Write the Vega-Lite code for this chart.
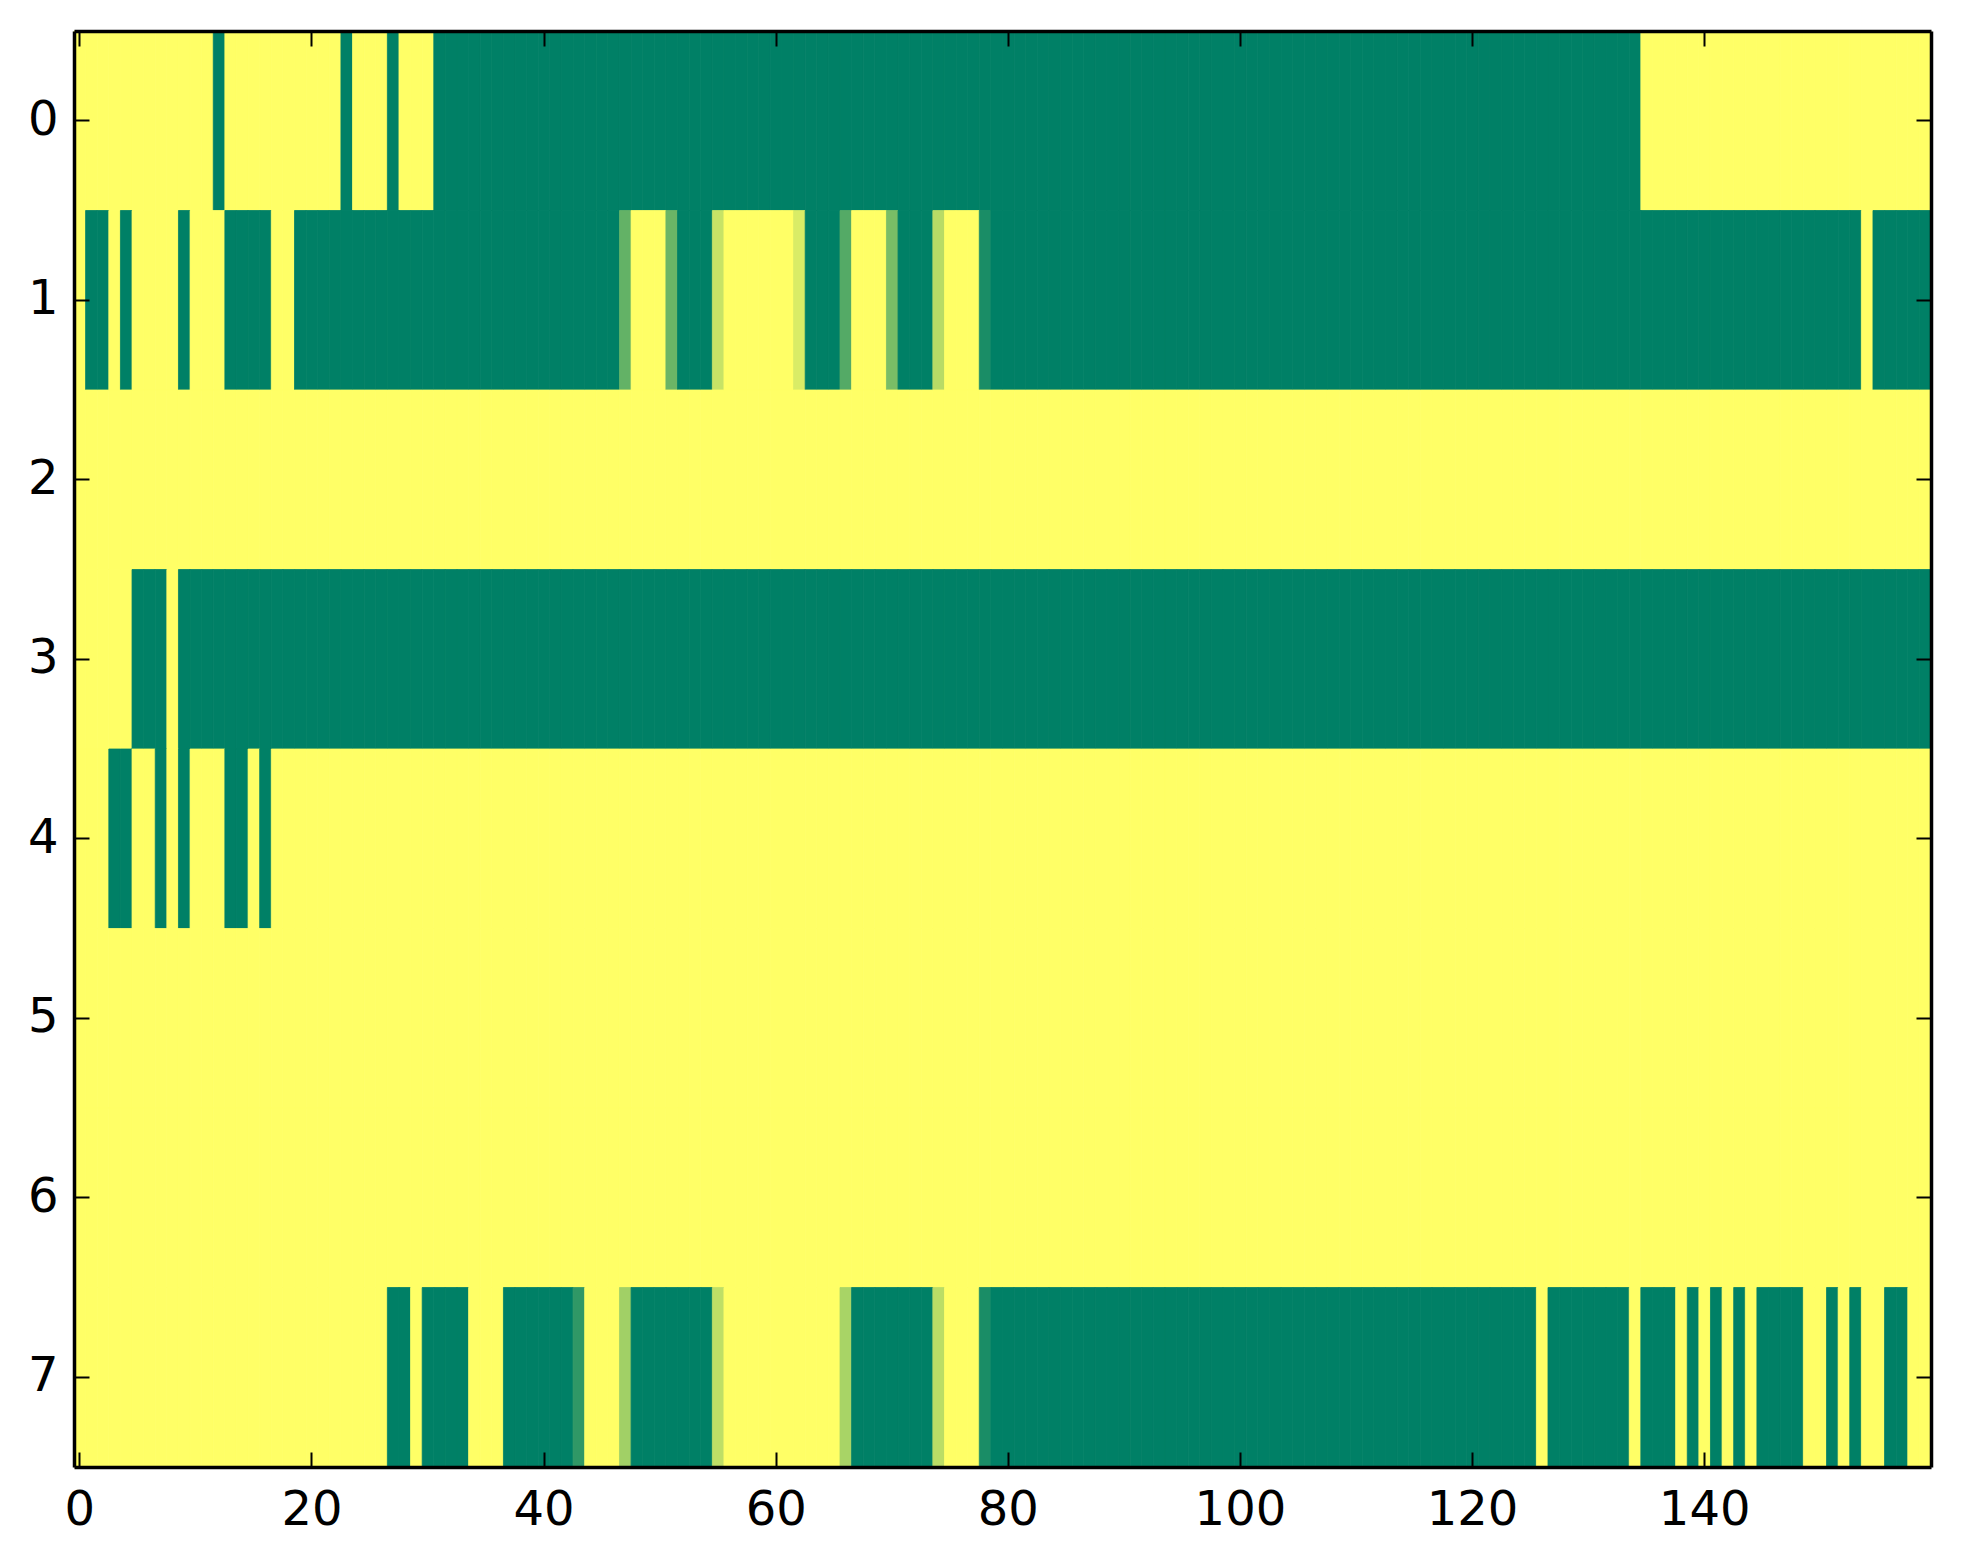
{
"$schema": "https://vega.github.io/schema/vega-lite/v6.json",
"width": 1857,
"height": 1436,
"autosize": {"type": "none"},
"padding": {"left": 74, "top": 31, "right": 32, "bottom": 97},
"background": "white",
"config": {
  "view": {"stroke": null},
  "axis": {"domainColor": "black", "domainWidth": 3.5, "tickColor": "black", "tickWidth": 2, "tickSize": -15, "labelFont": "DejaVu Sans", "labelFontSize": 48, "labelColor": "black", "grid": false, "title": null, "labelAngle": 0, "zindex": 1}
},
"data": {"values": [
{"r":0,"c":0,"v":1},{"r":0,"c":1,"v":1},{"r":0,"c":2,"v":1},{"r":0,"c":3,"v":1},{"r":0,"c":4,"v":1},{"r":0,"c":5,"v":1},{"r":0,"c":6,"v":1},{"r":0,"c":7,"v":1},{"r":0,"c":8,"v":1},{"r":0,"c":9,"v":1},
{"r":0,"c":10,"v":1},{"r":0,"c":11,"v":1},{"r":0,"c":12,"v":0},{"r":0,"c":13,"v":1},{"r":0,"c":14,"v":1},{"r":0,"c":15,"v":1},{"r":0,"c":16,"v":1},{"r":0,"c":17,"v":1},{"r":0,"c":18,"v":1},{"r":0,"c":19,"v":1},
{"r":0,"c":20,"v":1},{"r":0,"c":21,"v":1},{"r":0,"c":22,"v":1},{"r":0,"c":23,"v":0},{"r":0,"c":24,"v":1},{"r":0,"c":25,"v":1},{"r":0,"c":26,"v":1},{"r":0,"c":27,"v":0},{"r":0,"c":28,"v":1},{"r":0,"c":29,"v":1},
{"r":0,"c":30,"v":1},{"r":0,"c":31,"v":0},{"r":0,"c":32,"v":0},{"r":0,"c":33,"v":0},{"r":0,"c":34,"v":0},{"r":0,"c":35,"v":0},{"r":0,"c":36,"v":0},{"r":0,"c":37,"v":0},{"r":0,"c":38,"v":0},{"r":0,"c":39,"v":0},
{"r":0,"c":40,"v":0},{"r":0,"c":41,"v":0},{"r":0,"c":42,"v":0},{"r":0,"c":43,"v":0},{"r":0,"c":44,"v":0},{"r":0,"c":45,"v":0},{"r":0,"c":46,"v":0},{"r":0,"c":47,"v":0},{"r":0,"c":48,"v":0},{"r":0,"c":49,"v":0},
{"r":0,"c":50,"v":0},{"r":0,"c":51,"v":0},{"r":0,"c":52,"v":0},{"r":0,"c":53,"v":0},{"r":0,"c":54,"v":0},{"r":0,"c":55,"v":0},{"r":0,"c":56,"v":0},{"r":0,"c":57,"v":0},{"r":0,"c":58,"v":0},{"r":0,"c":59,"v":0},
{"r":0,"c":60,"v":0},{"r":0,"c":61,"v":0},{"r":0,"c":62,"v":0},{"r":0,"c":63,"v":0},{"r":0,"c":64,"v":0},{"r":0,"c":65,"v":0},{"r":0,"c":66,"v":0},{"r":0,"c":67,"v":0},{"r":0,"c":68,"v":0},{"r":0,"c":69,"v":0},
{"r":0,"c":70,"v":0},{"r":0,"c":71,"v":0},{"r":0,"c":72,"v":0},{"r":0,"c":73,"v":0},{"r":0,"c":74,"v":0},{"r":0,"c":75,"v":0},{"r":0,"c":76,"v":0},{"r":0,"c":77,"v":0},{"r":0,"c":78,"v":0},{"r":0,"c":79,"v":0},
{"r":0,"c":80,"v":0},{"r":0,"c":81,"v":0},{"r":0,"c":82,"v":0},{"r":0,"c":83,"v":0},{"r":0,"c":84,"v":0},{"r":0,"c":85,"v":0},{"r":0,"c":86,"v":0},{"r":0,"c":87,"v":0},{"r":0,"c":88,"v":0},{"r":0,"c":89,"v":0},
{"r":0,"c":90,"v":0},{"r":0,"c":91,"v":0},{"r":0,"c":92,"v":0},{"r":0,"c":93,"v":0},{"r":0,"c":94,"v":0},{"r":0,"c":95,"v":0},{"r":0,"c":96,"v":0},{"r":0,"c":97,"v":0},{"r":0,"c":98,"v":0},{"r":0,"c":99,"v":0},
{"r":0,"c":100,"v":0},{"r":0,"c":101,"v":0},{"r":0,"c":102,"v":0},{"r":0,"c":103,"v":0},{"r":0,"c":104,"v":0},{"r":0,"c":105,"v":0},{"r":0,"c":106,"v":0},{"r":0,"c":107,"v":0},{"r":0,"c":108,"v":0},{"r":0,"c":109,"v":0},
{"r":0,"c":110,"v":0},{"r":0,"c":111,"v":0},{"r":0,"c":112,"v":0},{"r":0,"c":113,"v":0},{"r":0,"c":114,"v":0},{"r":0,"c":115,"v":0},{"r":0,"c":116,"v":0},{"r":0,"c":117,"v":0},{"r":0,"c":118,"v":0},{"r":0,"c":119,"v":0},
{"r":0,"c":120,"v":0},{"r":0,"c":121,"v":0},{"r":0,"c":122,"v":0},{"r":0,"c":123,"v":0},{"r":0,"c":124,"v":0},{"r":0,"c":125,"v":0},{"r":0,"c":126,"v":0},{"r":0,"c":127,"v":0},{"r":0,"c":128,"v":0},{"r":0,"c":129,"v":0},
{"r":0,"c":130,"v":0},{"r":0,"c":131,"v":0},{"r":0,"c":132,"v":0},{"r":0,"c":133,"v":0},{"r":0,"c":134,"v":0},{"r":0,"c":135,"v":1},{"r":0,"c":136,"v":1},{"r":0,"c":137,"v":1},{"r":0,"c":138,"v":1},{"r":0,"c":139,"v":1},
{"r":0,"c":140,"v":1},{"r":0,"c":141,"v":1},{"r":0,"c":142,"v":1},{"r":0,"c":143,"v":1},{"r":0,"c":144,"v":1},{"r":0,"c":145,"v":1},{"r":0,"c":146,"v":1},{"r":0,"c":147,"v":1},{"r":0,"c":148,"v":1},{"r":0,"c":149,"v":1},
{"r":0,"c":150,"v":1},{"r":0,"c":151,"v":1},{"r":0,"c":152,"v":1},{"r":0,"c":153,"v":1},{"r":0,"c":154,"v":1},{"r":0,"c":155,"v":1},{"r":0,"c":156,"v":1},{"r":0,"c":157,"v":1},{"r":0,"c":158,"v":1},{"r":0,"c":159,"v":1},

{"r":1,"c":0,"v":1},{"r":1,"c":1,"v":0},{"r":1,"c":2,"v":0},{"r":1,"c":3,"v":1},{"r":1,"c":4,"v":0},{"r":1,"c":5,"v":1},{"r":1,"c":6,"v":1},{"r":1,"c":7,"v":1},{"r":1,"c":8,"v":1},{"r":1,"c":9,"v":0},
{"r":1,"c":10,"v":1},{"r":1,"c":11,"v":1},{"r":1,"c":12,"v":1},{"r":1,"c":13,"v":0},{"r":1,"c":14,"v":0},{"r":1,"c":15,"v":0},{"r":1,"c":16,"v":0},{"r":1,"c":17,"v":1},{"r":1,"c":18,"v":1},{"r":1,"c":19,"v":0},
{"r":1,"c":20,"v":0},{"r":1,"c":21,"v":0},{"r":1,"c":22,"v":0},{"r":1,"c":23,"v":0},{"r":1,"c":24,"v":0},{"r":1,"c":25,"v":0},{"r":1,"c":26,"v":0},{"r":1,"c":27,"v":0},{"r":1,"c":28,"v":0},{"r":1,"c":29,"v":0},
{"r":1,"c":30,"v":0},{"r":1,"c":31,"v":0},{"r":1,"c":32,"v":0},{"r":1,"c":33,"v":0},{"r":1,"c":34,"v":0},{"r":1,"c":35,"v":0},{"r":1,"c":36,"v":0},{"r":1,"c":37,"v":0},{"r":1,"c":38,"v":0},{"r":1,"c":39,"v":0},
{"r":1,"c":40,"v":0},{"r":1,"c":41,"v":0},{"r":1,"c":42,"v":0},{"r":1,"c":43,"v":0},{"r":1,"c":44,"v":0},{"r":1,"c":45,"v":0},{"r":1,"c":46,"v":0},{"r":1,"c":47,"v":0.39},{"r":1,"c":48,"v":1},{"r":1,"c":49,"v":1},
{"r":1,"c":50,"v":1},{"r":1,"c":51,"v":0.42},{"r":1,"c":52,"v":0},{"r":1,"c":53,"v":0},{"r":1,"c":54,"v":0},{"r":1,"c":55,"v":0.78},{"r":1,"c":56,"v":1},{"r":1,"c":57,"v":1},{"r":1,"c":58,"v":1},{"r":1,"c":59,"v":1},
{"r":1,"c":60,"v":1},{"r":1,"c":61,"v":1},{"r":1,"c":62,"v":0.85},{"r":1,"c":63,"v":0},{"r":1,"c":64,"v":0},{"r":1,"c":65,"v":0},{"r":1,"c":66,"v":0.33},{"r":1,"c":67,"v":1},{"r":1,"c":68,"v":1},{"r":1,"c":69,"v":1},
{"r":1,"c":70,"v":0.48},{"r":1,"c":71,"v":0},{"r":1,"c":72,"v":0},{"r":1,"c":73,"v":0},{"r":1,"c":74,"v":0.72},{"r":1,"c":75,"v":1},{"r":1,"c":76,"v":1},{"r":1,"c":77,"v":1},{"r":1,"c":78,"v":0.1},{"r":1,"c":79,"v":0},
{"r":1,"c":80,"v":0},{"r":1,"c":81,"v":0},{"r":1,"c":82,"v":0},{"r":1,"c":83,"v":0},{"r":1,"c":84,"v":0},{"r":1,"c":85,"v":0},{"r":1,"c":86,"v":0},{"r":1,"c":87,"v":0},{"r":1,"c":88,"v":0},{"r":1,"c":89,"v":0},
{"r":1,"c":90,"v":0},{"r":1,"c":91,"v":0},{"r":1,"c":92,"v":0},{"r":1,"c":93,"v":0},{"r":1,"c":94,"v":0},{"r":1,"c":95,"v":0},{"r":1,"c":96,"v":0},{"r":1,"c":97,"v":0},{"r":1,"c":98,"v":0},{"r":1,"c":99,"v":0},
{"r":1,"c":100,"v":0},{"r":1,"c":101,"v":0},{"r":1,"c":102,"v":0},{"r":1,"c":103,"v":0},{"r":1,"c":104,"v":0},{"r":1,"c":105,"v":0},{"r":1,"c":106,"v":0},{"r":1,"c":107,"v":0},{"r":1,"c":108,"v":0},{"r":1,"c":109,"v":0},
{"r":1,"c":110,"v":0},{"r":1,"c":111,"v":0},{"r":1,"c":112,"v":0},{"r":1,"c":113,"v":0},{"r":1,"c":114,"v":0},{"r":1,"c":115,"v":0},{"r":1,"c":116,"v":0},{"r":1,"c":117,"v":0},{"r":1,"c":118,"v":0},{"r":1,"c":119,"v":0},
{"r":1,"c":120,"v":0},{"r":1,"c":121,"v":0},{"r":1,"c":122,"v":0},{"r":1,"c":123,"v":0},{"r":1,"c":124,"v":0},{"r":1,"c":125,"v":0},{"r":1,"c":126,"v":0},{"r":1,"c":127,"v":0},{"r":1,"c":128,"v":0},{"r":1,"c":129,"v":0},
{"r":1,"c":130,"v":0},{"r":1,"c":131,"v":0},{"r":1,"c":132,"v":0},{"r":1,"c":133,"v":0},{"r":1,"c":134,"v":0},{"r":1,"c":135,"v":0},{"r":1,"c":136,"v":0},{"r":1,"c":137,"v":0},{"r":1,"c":138,"v":0},{"r":1,"c":139,"v":0},
{"r":1,"c":140,"v":0},{"r":1,"c":141,"v":0},{"r":1,"c":142,"v":0},{"r":1,"c":143,"v":0},{"r":1,"c":144,"v":0},{"r":1,"c":145,"v":0},{"r":1,"c":146,"v":0},{"r":1,"c":147,"v":0},{"r":1,"c":148,"v":0},{"r":1,"c":149,"v":0},
{"r":1,"c":150,"v":0},{"r":1,"c":151,"v":0},{"r":1,"c":152,"v":0},{"r":1,"c":153,"v":0},{"r":1,"c":154,"v":1},{"r":1,"c":155,"v":0},{"r":1,"c":156,"v":0},{"r":1,"c":157,"v":0},{"r":1,"c":158,"v":0},{"r":1,"c":159,"v":0},

{"r":2,"c":0,"v":1},{"r":2,"c":1,"v":1},{"r":2,"c":2,"v":1},{"r":2,"c":3,"v":1},{"r":2,"c":4,"v":1},{"r":2,"c":5,"v":1},{"r":2,"c":6,"v":1},{"r":2,"c":7,"v":1},{"r":2,"c":8,"v":1},{"r":2,"c":9,"v":1},
{"r":2,"c":10,"v":1},{"r":2,"c":11,"v":1},{"r":2,"c":12,"v":1},{"r":2,"c":13,"v":1},{"r":2,"c":14,"v":1},{"r":2,"c":15,"v":1},{"r":2,"c":16,"v":1},{"r":2,"c":17,"v":1},{"r":2,"c":18,"v":1},{"r":2,"c":19,"v":1},
{"r":2,"c":20,"v":1},{"r":2,"c":21,"v":1},{"r":2,"c":22,"v":1},{"r":2,"c":23,"v":1},{"r":2,"c":24,"v":1},{"r":2,"c":25,"v":1},{"r":2,"c":26,"v":1},{"r":2,"c":27,"v":1},{"r":2,"c":28,"v":1},{"r":2,"c":29,"v":1},
{"r":2,"c":30,"v":1},{"r":2,"c":31,"v":1},{"r":2,"c":32,"v":1},{"r":2,"c":33,"v":1},{"r":2,"c":34,"v":1},{"r":2,"c":35,"v":1},{"r":2,"c":36,"v":1},{"r":2,"c":37,"v":1},{"r":2,"c":38,"v":1},{"r":2,"c":39,"v":1},
{"r":2,"c":40,"v":1},{"r":2,"c":41,"v":1},{"r":2,"c":42,"v":1},{"r":2,"c":43,"v":1},{"r":2,"c":44,"v":1},{"r":2,"c":45,"v":1},{"r":2,"c":46,"v":1},{"r":2,"c":47,"v":1},{"r":2,"c":48,"v":1},{"r":2,"c":49,"v":1},
{"r":2,"c":50,"v":1},{"r":2,"c":51,"v":1},{"r":2,"c":52,"v":1},{"r":2,"c":53,"v":1},{"r":2,"c":54,"v":1},{"r":2,"c":55,"v":1},{"r":2,"c":56,"v":1},{"r":2,"c":57,"v":1},{"r":2,"c":58,"v":1},{"r":2,"c":59,"v":1},
{"r":2,"c":60,"v":1},{"r":2,"c":61,"v":1},{"r":2,"c":62,"v":1},{"r":2,"c":63,"v":1},{"r":2,"c":64,"v":1},{"r":2,"c":65,"v":1},{"r":2,"c":66,"v":1},{"r":2,"c":67,"v":1},{"r":2,"c":68,"v":1},{"r":2,"c":69,"v":1},
{"r":2,"c":70,"v":1},{"r":2,"c":71,"v":1},{"r":2,"c":72,"v":1},{"r":2,"c":73,"v":1},{"r":2,"c":74,"v":1},{"r":2,"c":75,"v":1},{"r":2,"c":76,"v":1},{"r":2,"c":77,"v":1},{"r":2,"c":78,"v":1},{"r":2,"c":79,"v":1},
{"r":2,"c":80,"v":1},{"r":2,"c":81,"v":1},{"r":2,"c":82,"v":1},{"r":2,"c":83,"v":1},{"r":2,"c":84,"v":1},{"r":2,"c":85,"v":1},{"r":2,"c":86,"v":1},{"r":2,"c":87,"v":1},{"r":2,"c":88,"v":1},{"r":2,"c":89,"v":1},
{"r":2,"c":90,"v":1},{"r":2,"c":91,"v":1},{"r":2,"c":92,"v":1},{"r":2,"c":93,"v":1},{"r":2,"c":94,"v":1},{"r":2,"c":95,"v":1},{"r":2,"c":96,"v":1},{"r":2,"c":97,"v":1},{"r":2,"c":98,"v":1},{"r":2,"c":99,"v":1},
{"r":2,"c":100,"v":1},{"r":2,"c":101,"v":1},{"r":2,"c":102,"v":1},{"r":2,"c":103,"v":1},{"r":2,"c":104,"v":1},{"r":2,"c":105,"v":1},{"r":2,"c":106,"v":1},{"r":2,"c":107,"v":1},{"r":2,"c":108,"v":1},{"r":2,"c":109,"v":1},
{"r":2,"c":110,"v":1},{"r":2,"c":111,"v":1},{"r":2,"c":112,"v":1},{"r":2,"c":113,"v":1},{"r":2,"c":114,"v":1},{"r":2,"c":115,"v":1},{"r":2,"c":116,"v":1},{"r":2,"c":117,"v":1},{"r":2,"c":118,"v":1},{"r":2,"c":119,"v":1},
{"r":2,"c":120,"v":1},{"r":2,"c":121,"v":1},{"r":2,"c":122,"v":1},{"r":2,"c":123,"v":1},{"r":2,"c":124,"v":1},{"r":2,"c":125,"v":1},{"r":2,"c":126,"v":1},{"r":2,"c":127,"v":1},{"r":2,"c":128,"v":1},{"r":2,"c":129,"v":1},
{"r":2,"c":130,"v":1},{"r":2,"c":131,"v":1},{"r":2,"c":132,"v":1},{"r":2,"c":133,"v":1},{"r":2,"c":134,"v":1},{"r":2,"c":135,"v":1},{"r":2,"c":136,"v":1},{"r":2,"c":137,"v":1},{"r":2,"c":138,"v":1},{"r":2,"c":139,"v":1},
{"r":2,"c":140,"v":1},{"r":2,"c":141,"v":1},{"r":2,"c":142,"v":1},{"r":2,"c":143,"v":1},{"r":2,"c":144,"v":1},{"r":2,"c":145,"v":1},{"r":2,"c":146,"v":1},{"r":2,"c":147,"v":1},{"r":2,"c":148,"v":1},{"r":2,"c":149,"v":1},
{"r":2,"c":150,"v":1},{"r":2,"c":151,"v":1},{"r":2,"c":152,"v":1},{"r":2,"c":153,"v":1},{"r":2,"c":154,"v":1},{"r":2,"c":155,"v":1},{"r":2,"c":156,"v":1},{"r":2,"c":157,"v":1},{"r":2,"c":158,"v":1},{"r":2,"c":159,"v":1},

{"r":3,"c":0,"v":1},{"r":3,"c":1,"v":1},{"r":3,"c":2,"v":1},{"r":3,"c":3,"v":1},{"r":3,"c":4,"v":1},{"r":3,"c":5,"v":0},{"r":3,"c":6,"v":0},{"r":3,"c":7,"v":0},{"r":3,"c":8,"v":1},{"r":3,"c":9,"v":0},
{"r":3,"c":10,"v":0},{"r":3,"c":11,"v":0},{"r":3,"c":12,"v":0},{"r":3,"c":13,"v":0},{"r":3,"c":14,"v":0},{"r":3,"c":15,"v":0},{"r":3,"c":16,"v":0},{"r":3,"c":17,"v":0},{"r":3,"c":18,"v":0},{"r":3,"c":19,"v":0},
{"r":3,"c":20,"v":0},{"r":3,"c":21,"v":0},{"r":3,"c":22,"v":0},{"r":3,"c":23,"v":0},{"r":3,"c":24,"v":0},{"r":3,"c":25,"v":0},{"r":3,"c":26,"v":0},{"r":3,"c":27,"v":0},{"r":3,"c":28,"v":0},{"r":3,"c":29,"v":0},
{"r":3,"c":30,"v":0},{"r":3,"c":31,"v":0},{"r":3,"c":32,"v":0},{"r":3,"c":33,"v":0},{"r":3,"c":34,"v":0},{"r":3,"c":35,"v":0},{"r":3,"c":36,"v":0},{"r":3,"c":37,"v":0},{"r":3,"c":38,"v":0},{"r":3,"c":39,"v":0},
{"r":3,"c":40,"v":0},{"r":3,"c":41,"v":0},{"r":3,"c":42,"v":0},{"r":3,"c":43,"v":0},{"r":3,"c":44,"v":0},{"r":3,"c":45,"v":0},{"r":3,"c":46,"v":0},{"r":3,"c":47,"v":0},{"r":3,"c":48,"v":0},{"r":3,"c":49,"v":0},
{"r":3,"c":50,"v":0},{"r":3,"c":51,"v":0},{"r":3,"c":52,"v":0},{"r":3,"c":53,"v":0},{"r":3,"c":54,"v":0},{"r":3,"c":55,"v":0},{"r":3,"c":56,"v":0},{"r":3,"c":57,"v":0},{"r":3,"c":58,"v":0},{"r":3,"c":59,"v":0},
{"r":3,"c":60,"v":0},{"r":3,"c":61,"v":0},{"r":3,"c":62,"v":0},{"r":3,"c":63,"v":0},{"r":3,"c":64,"v":0},{"r":3,"c":65,"v":0},{"r":3,"c":66,"v":0},{"r":3,"c":67,"v":0},{"r":3,"c":68,"v":0},{"r":3,"c":69,"v":0},
{"r":3,"c":70,"v":0},{"r":3,"c":71,"v":0},{"r":3,"c":72,"v":0},{"r":3,"c":73,"v":0},{"r":3,"c":74,"v":0},{"r":3,"c":75,"v":0},{"r":3,"c":76,"v":0},{"r":3,"c":77,"v":0},{"r":3,"c":78,"v":0},{"r":3,"c":79,"v":0},
{"r":3,"c":80,"v":0},{"r":3,"c":81,"v":0},{"r":3,"c":82,"v":0},{"r":3,"c":83,"v":0},{"r":3,"c":84,"v":0},{"r":3,"c":85,"v":0},{"r":3,"c":86,"v":0},{"r":3,"c":87,"v":0},{"r":3,"c":88,"v":0},{"r":3,"c":89,"v":0},
{"r":3,"c":90,"v":0},{"r":3,"c":91,"v":0},{"r":3,"c":92,"v":0},{"r":3,"c":93,"v":0},{"r":3,"c":94,"v":0},{"r":3,"c":95,"v":0},{"r":3,"c":96,"v":0},{"r":3,"c":97,"v":0},{"r":3,"c":98,"v":0},{"r":3,"c":99,"v":0},
{"r":3,"c":100,"v":0},{"r":3,"c":101,"v":0},{"r":3,"c":102,"v":0},{"r":3,"c":103,"v":0},{"r":3,"c":104,"v":0},{"r":3,"c":105,"v":0},{"r":3,"c":106,"v":0},{"r":3,"c":107,"v":0},{"r":3,"c":108,"v":0},{"r":3,"c":109,"v":0},
{"r":3,"c":110,"v":0},{"r":3,"c":111,"v":0},{"r":3,"c":112,"v":0},{"r":3,"c":113,"v":0},{"r":3,"c":114,"v":0},{"r":3,"c":115,"v":0},{"r":3,"c":116,"v":0},{"r":3,"c":117,"v":0},{"r":3,"c":118,"v":0},{"r":3,"c":119,"v":0},
{"r":3,"c":120,"v":0},{"r":3,"c":121,"v":0},{"r":3,"c":122,"v":0},{"r":3,"c":123,"v":0},{"r":3,"c":124,"v":0},{"r":3,"c":125,"v":0},{"r":3,"c":126,"v":0},{"r":3,"c":127,"v":0},{"r":3,"c":128,"v":0},{"r":3,"c":129,"v":0},
{"r":3,"c":130,"v":0},{"r":3,"c":131,"v":0},{"r":3,"c":132,"v":0},{"r":3,"c":133,"v":0},{"r":3,"c":134,"v":0},{"r":3,"c":135,"v":0},{"r":3,"c":136,"v":0},{"r":3,"c":137,"v":0},{"r":3,"c":138,"v":0},{"r":3,"c":139,"v":0},
{"r":3,"c":140,"v":0},{"r":3,"c":141,"v":0},{"r":3,"c":142,"v":0},{"r":3,"c":143,"v":0},{"r":3,"c":144,"v":0},{"r":3,"c":145,"v":0},{"r":3,"c":146,"v":0},{"r":3,"c":147,"v":0},{"r":3,"c":148,"v":0},{"r":3,"c":149,"v":0},
{"r":3,"c":150,"v":0},{"r":3,"c":151,"v":0},{"r":3,"c":152,"v":0},{"r":3,"c":153,"v":0},{"r":3,"c":154,"v":0},{"r":3,"c":155,"v":0},{"r":3,"c":156,"v":0},{"r":3,"c":157,"v":0},{"r":3,"c":158,"v":0},{"r":3,"c":159,"v":0},

{"r":4,"c":0,"v":1},{"r":4,"c":1,"v":1},{"r":4,"c":2,"v":1},{"r":4,"c":3,"v":0},{"r":4,"c":4,"v":0},{"r":4,"c":5,"v":1},{"r":4,"c":6,"v":1},{"r":4,"c":7,"v":0},{"r":4,"c":8,"v":1},{"r":4,"c":9,"v":0},
{"r":4,"c":10,"v":1},{"r":4,"c":11,"v":1},{"r":4,"c":12,"v":1},{"r":4,"c":13,"v":0},{"r":4,"c":14,"v":0},{"r":4,"c":15,"v":1},{"r":4,"c":16,"v":0},{"r":4,"c":17,"v":1},{"r":4,"c":18,"v":1},{"r":4,"c":19,"v":1},
{"r":4,"c":20,"v":1},{"r":4,"c":21,"v":1},{"r":4,"c":22,"v":1},{"r":4,"c":23,"v":1},{"r":4,"c":24,"v":1},{"r":4,"c":25,"v":1},{"r":4,"c":26,"v":1},{"r":4,"c":27,"v":1},{"r":4,"c":28,"v":1},{"r":4,"c":29,"v":1},
{"r":4,"c":30,"v":1},{"r":4,"c":31,"v":1},{"r":4,"c":32,"v":1},{"r":4,"c":33,"v":1},{"r":4,"c":34,"v":1},{"r":4,"c":35,"v":1},{"r":4,"c":36,"v":1},{"r":4,"c":37,"v":1},{"r":4,"c":38,"v":1},{"r":4,"c":39,"v":1},
{"r":4,"c":40,"v":1},{"r":4,"c":41,"v":1},{"r":4,"c":42,"v":1},{"r":4,"c":43,"v":1},{"r":4,"c":44,"v":1},{"r":4,"c":45,"v":1},{"r":4,"c":46,"v":1},{"r":4,"c":47,"v":1},{"r":4,"c":48,"v":1},{"r":4,"c":49,"v":1},
{"r":4,"c":50,"v":1},{"r":4,"c":51,"v":1},{"r":4,"c":52,"v":1},{"r":4,"c":53,"v":1},{"r":4,"c":54,"v":1},{"r":4,"c":55,"v":1},{"r":4,"c":56,"v":1},{"r":4,"c":57,"v":1},{"r":4,"c":58,"v":1},{"r":4,"c":59,"v":1},
{"r":4,"c":60,"v":1},{"r":4,"c":61,"v":1},{"r":4,"c":62,"v":1},{"r":4,"c":63,"v":1},{"r":4,"c":64,"v":1},{"r":4,"c":65,"v":1},{"r":4,"c":66,"v":1},{"r":4,"c":67,"v":1},{"r":4,"c":68,"v":1},{"r":4,"c":69,"v":1},
{"r":4,"c":70,"v":1},{"r":4,"c":71,"v":1},{"r":4,"c":72,"v":1},{"r":4,"c":73,"v":1},{"r":4,"c":74,"v":1},{"r":4,"c":75,"v":1},{"r":4,"c":76,"v":1},{"r":4,"c":77,"v":1},{"r":4,"c":78,"v":1},{"r":4,"c":79,"v":1},
{"r":4,"c":80,"v":1},{"r":4,"c":81,"v":1},{"r":4,"c":82,"v":1},{"r":4,"c":83,"v":1},{"r":4,"c":84,"v":1},{"r":4,"c":85,"v":1},{"r":4,"c":86,"v":1},{"r":4,"c":87,"v":1},{"r":4,"c":88,"v":1},{"r":4,"c":89,"v":1},
{"r":4,"c":90,"v":1},{"r":4,"c":91,"v":1},{"r":4,"c":92,"v":1},{"r":4,"c":93,"v":1},{"r":4,"c":94,"v":1},{"r":4,"c":95,"v":1},{"r":4,"c":96,"v":1},{"r":4,"c":97,"v":1},{"r":4,"c":98,"v":1},{"r":4,"c":99,"v":1},
{"r":4,"c":100,"v":1},{"r":4,"c":101,"v":1},{"r":4,"c":102,"v":1},{"r":4,"c":103,"v":1},{"r":4,"c":104,"v":1},{"r":4,"c":105,"v":1},{"r":4,"c":106,"v":1},{"r":4,"c":107,"v":1},{"r":4,"c":108,"v":1},{"r":4,"c":109,"v":1},
{"r":4,"c":110,"v":1},{"r":4,"c":111,"v":1},{"r":4,"c":112,"v":1},{"r":4,"c":113,"v":1},{"r":4,"c":114,"v":1},{"r":4,"c":115,"v":1},{"r":4,"c":116,"v":1},{"r":4,"c":117,"v":1},{"r":4,"c":118,"v":1},{"r":4,"c":119,"v":1},
{"r":4,"c":120,"v":1},{"r":4,"c":121,"v":1},{"r":4,"c":122,"v":1},{"r":4,"c":123,"v":1},{"r":4,"c":124,"v":1},{"r":4,"c":125,"v":1},{"r":4,"c":126,"v":1},{"r":4,"c":127,"v":1},{"r":4,"c":128,"v":1},{"r":4,"c":129,"v":1},
{"r":4,"c":130,"v":1},{"r":4,"c":131,"v":1},{"r":4,"c":132,"v":1},{"r":4,"c":133,"v":1},{"r":4,"c":134,"v":1},{"r":4,"c":135,"v":1},{"r":4,"c":136,"v":1},{"r":4,"c":137,"v":1},{"r":4,"c":138,"v":1},{"r":4,"c":139,"v":1},
{"r":4,"c":140,"v":1},{"r":4,"c":141,"v":1},{"r":4,"c":142,"v":1},{"r":4,"c":143,"v":1},{"r":4,"c":144,"v":1},{"r":4,"c":145,"v":1},{"r":4,"c":146,"v":1},{"r":4,"c":147,"v":1},{"r":4,"c":148,"v":1},{"r":4,"c":149,"v":1},
{"r":4,"c":150,"v":1},{"r":4,"c":151,"v":1},{"r":4,"c":152,"v":1},{"r":4,"c":153,"v":1},{"r":4,"c":154,"v":1},{"r":4,"c":155,"v":1},{"r":4,"c":156,"v":1},{"r":4,"c":157,"v":1},{"r":4,"c":158,"v":1},{"r":4,"c":159,"v":1},

{"r":5,"c":0,"v":1},{"r":5,"c":1,"v":1},{"r":5,"c":2,"v":1},{"r":5,"c":3,"v":1},{"r":5,"c":4,"v":1},{"r":5,"c":5,"v":1},{"r":5,"c":6,"v":1},{"r":5,"c":7,"v":1},{"r":5,"c":8,"v":1},{"r":5,"c":9,"v":1},
{"r":5,"c":10,"v":1},{"r":5,"c":11,"v":1},{"r":5,"c":12,"v":1},{"r":5,"c":13,"v":1},{"r":5,"c":14,"v":1},{"r":5,"c":15,"v":1},{"r":5,"c":16,"v":1},{"r":5,"c":17,"v":1},{"r":5,"c":18,"v":1},{"r":5,"c":19,"v":1},
{"r":5,"c":20,"v":1},{"r":5,"c":21,"v":1},{"r":5,"c":22,"v":1},{"r":5,"c":23,"v":1},{"r":5,"c":24,"v":1},{"r":5,"c":25,"v":1},{"r":5,"c":26,"v":1},{"r":5,"c":27,"v":1},{"r":5,"c":28,"v":1},{"r":5,"c":29,"v":1},
{"r":5,"c":30,"v":1},{"r":5,"c":31,"v":1},{"r":5,"c":32,"v":1},{"r":5,"c":33,"v":1},{"r":5,"c":34,"v":1},{"r":5,"c":35,"v":1},{"r":5,"c":36,"v":1},{"r":5,"c":37,"v":1},{"r":5,"c":38,"v":1},{"r":5,"c":39,"v":1},
{"r":5,"c":40,"v":1},{"r":5,"c":41,"v":1},{"r":5,"c":42,"v":1},{"r":5,"c":43,"v":1},{"r":5,"c":44,"v":1},{"r":5,"c":45,"v":1},{"r":5,"c":46,"v":1},{"r":5,"c":47,"v":1},{"r":5,"c":48,"v":1},{"r":5,"c":49,"v":1},
{"r":5,"c":50,"v":1},{"r":5,"c":51,"v":1},{"r":5,"c":52,"v":1},{"r":5,"c":53,"v":1},{"r":5,"c":54,"v":1},{"r":5,"c":55,"v":1},{"r":5,"c":56,"v":1},{"r":5,"c":57,"v":1},{"r":5,"c":58,"v":1},{"r":5,"c":59,"v":1},
{"r":5,"c":60,"v":1},{"r":5,"c":61,"v":1},{"r":5,"c":62,"v":1},{"r":5,"c":63,"v":1},{"r":5,"c":64,"v":1},{"r":5,"c":65,"v":1},{"r":5,"c":66,"v":1},{"r":5,"c":67,"v":1},{"r":5,"c":68,"v":1},{"r":5,"c":69,"v":1},
{"r":5,"c":70,"v":1},{"r":5,"c":71,"v":1},{"r":5,"c":72,"v":1},{"r":5,"c":73,"v":1},{"r":5,"c":74,"v":1},{"r":5,"c":75,"v":1},{"r":5,"c":76,"v":1},{"r":5,"c":77,"v":1},{"r":5,"c":78,"v":1},{"r":5,"c":79,"v":1},
{"r":5,"c":80,"v":1},{"r":5,"c":81,"v":1},{"r":5,"c":82,"v":1},{"r":5,"c":83,"v":1},{"r":5,"c":84,"v":1},{"r":5,"c":85,"v":1},{"r":5,"c":86,"v":1},{"r":5,"c":87,"v":1},{"r":5,"c":88,"v":1},{"r":5,"c":89,"v":1},
{"r":5,"c":90,"v":1},{"r":5,"c":91,"v":1},{"r":5,"c":92,"v":1},{"r":5,"c":93,"v":1},{"r":5,"c":94,"v":1},{"r":5,"c":95,"v":1},{"r":5,"c":96,"v":1},{"r":5,"c":97,"v":1},{"r":5,"c":98,"v":1},{"r":5,"c":99,"v":1},
{"r":5,"c":100,"v":1},{"r":5,"c":101,"v":1},{"r":5,"c":102,"v":1},{"r":5,"c":103,"v":1},{"r":5,"c":104,"v":1},{"r":5,"c":105,"v":1},{"r":5,"c":106,"v":1},{"r":5,"c":107,"v":1},{"r":5,"c":108,"v":1},{"r":5,"c":109,"v":1},
{"r":5,"c":110,"v":1},{"r":5,"c":111,"v":1},{"r":5,"c":112,"v":1},{"r":5,"c":113,"v":1},{"r":5,"c":114,"v":1},{"r":5,"c":115,"v":1},{"r":5,"c":116,"v":1},{"r":5,"c":117,"v":1},{"r":5,"c":118,"v":1},{"r":5,"c":119,"v":1},
{"r":5,"c":120,"v":1},{"r":5,"c":121,"v":1},{"r":5,"c":122,"v":1},{"r":5,"c":123,"v":1},{"r":5,"c":124,"v":1},{"r":5,"c":125,"v":1},{"r":5,"c":126,"v":1},{"r":5,"c":127,"v":1},{"r":5,"c":128,"v":1},{"r":5,"c":129,"v":1},
{"r":5,"c":130,"v":1},{"r":5,"c":131,"v":1},{"r":5,"c":132,"v":1},{"r":5,"c":133,"v":1},{"r":5,"c":134,"v":1},{"r":5,"c":135,"v":1},{"r":5,"c":136,"v":1},{"r":5,"c":137,"v":1},{"r":5,"c":138,"v":1},{"r":5,"c":139,"v":1},
{"r":5,"c":140,"v":1},{"r":5,"c":141,"v":1},{"r":5,"c":142,"v":1},{"r":5,"c":143,"v":1},{"r":5,"c":144,"v":1},{"r":5,"c":145,"v":1},{"r":5,"c":146,"v":1},{"r":5,"c":147,"v":1},{"r":5,"c":148,"v":1},{"r":5,"c":149,"v":1},
{"r":5,"c":150,"v":1},{"r":5,"c":151,"v":1},{"r":5,"c":152,"v":1},{"r":5,"c":153,"v":1},{"r":5,"c":154,"v":1},{"r":5,"c":155,"v":1},{"r":5,"c":156,"v":1},{"r":5,"c":157,"v":1},{"r":5,"c":158,"v":1},{"r":5,"c":159,"v":1},

{"r":6,"c":0,"v":1},{"r":6,"c":1,"v":1},{"r":6,"c":2,"v":1},{"r":6,"c":3,"v":1},{"r":6,"c":4,"v":1},{"r":6,"c":5,"v":1},{"r":6,"c":6,"v":1},{"r":6,"c":7,"v":1},{"r":6,"c":8,"v":1},{"r":6,"c":9,"v":1},
{"r":6,"c":10,"v":1},{"r":6,"c":11,"v":1},{"r":6,"c":12,"v":1},{"r":6,"c":13,"v":1},{"r":6,"c":14,"v":1},{"r":6,"c":15,"v":1},{"r":6,"c":16,"v":1},{"r":6,"c":17,"v":1},{"r":6,"c":18,"v":1},{"r":6,"c":19,"v":1},
{"r":6,"c":20,"v":1},{"r":6,"c":21,"v":1},{"r":6,"c":22,"v":1},{"r":6,"c":23,"v":1},{"r":6,"c":24,"v":1},{"r":6,"c":25,"v":1},{"r":6,"c":26,"v":1},{"r":6,"c":27,"v":1},{"r":6,"c":28,"v":1},{"r":6,"c":29,"v":1},
{"r":6,"c":30,"v":1},{"r":6,"c":31,"v":1},{"r":6,"c":32,"v":1},{"r":6,"c":33,"v":1},{"r":6,"c":34,"v":1},{"r":6,"c":35,"v":1},{"r":6,"c":36,"v":1},{"r":6,"c":37,"v":1},{"r":6,"c":38,"v":1},{"r":6,"c":39,"v":1},
{"r":6,"c":40,"v":1},{"r":6,"c":41,"v":1},{"r":6,"c":42,"v":1},{"r":6,"c":43,"v":1},{"r":6,"c":44,"v":1},{"r":6,"c":45,"v":1},{"r":6,"c":46,"v":1},{"r":6,"c":47,"v":1},{"r":6,"c":48,"v":1},{"r":6,"c":49,"v":1},
{"r":6,"c":50,"v":1},{"r":6,"c":51,"v":1},{"r":6,"c":52,"v":1},{"r":6,"c":53,"v":1},{"r":6,"c":54,"v":1},{"r":6,"c":55,"v":1},{"r":6,"c":56,"v":1},{"r":6,"c":57,"v":1},{"r":6,"c":58,"v":1},{"r":6,"c":59,"v":1},
{"r":6,"c":60,"v":1},{"r":6,"c":61,"v":1},{"r":6,"c":62,"v":1},{"r":6,"c":63,"v":1},{"r":6,"c":64,"v":1},{"r":6,"c":65,"v":1},{"r":6,"c":66,"v":1},{"r":6,"c":67,"v":1},{"r":6,"c":68,"v":1},{"r":6,"c":69,"v":1},
{"r":6,"c":70,"v":1},{"r":6,"c":71,"v":1},{"r":6,"c":72,"v":1},{"r":6,"c":73,"v":1},{"r":6,"c":74,"v":1},{"r":6,"c":75,"v":1},{"r":6,"c":76,"v":1},{"r":6,"c":77,"v":1},{"r":6,"c":78,"v":1},{"r":6,"c":79,"v":1},
{"r":6,"c":80,"v":1},{"r":6,"c":81,"v":1},{"r":6,"c":82,"v":1},{"r":6,"c":83,"v":1},{"r":6,"c":84,"v":1},{"r":6,"c":85,"v":1},{"r":6,"c":86,"v":1},{"r":6,"c":87,"v":1},{"r":6,"c":88,"v":1},{"r":6,"c":89,"v":1},
{"r":6,"c":90,"v":1},{"r":6,"c":91,"v":1},{"r":6,"c":92,"v":1},{"r":6,"c":93,"v":1},{"r":6,"c":94,"v":1},{"r":6,"c":95,"v":1},{"r":6,"c":96,"v":1},{"r":6,"c":97,"v":1},{"r":6,"c":98,"v":1},{"r":6,"c":99,"v":1},
{"r":6,"c":100,"v":1},{"r":6,"c":101,"v":1},{"r":6,"c":102,"v":1},{"r":6,"c":103,"v":1},{"r":6,"c":104,"v":1},{"r":6,"c":105,"v":1},{"r":6,"c":106,"v":1},{"r":6,"c":107,"v":1},{"r":6,"c":108,"v":1},{"r":6,"c":109,"v":1},
{"r":6,"c":110,"v":1},{"r":6,"c":111,"v":1},{"r":6,"c":112,"v":1},{"r":6,"c":113,"v":1},{"r":6,"c":114,"v":1},{"r":6,"c":115,"v":1},{"r":6,"c":116,"v":1},{"r":6,"c":117,"v":1},{"r":6,"c":118,"v":1},{"r":6,"c":119,"v":1},
{"r":6,"c":120,"v":1},{"r":6,"c":121,"v":1},{"r":6,"c":122,"v":1},{"r":6,"c":123,"v":1},{"r":6,"c":124,"v":1},{"r":6,"c":125,"v":1},{"r":6,"c":126,"v":1},{"r":6,"c":127,"v":1},{"r":6,"c":128,"v":1},{"r":6,"c":129,"v":1},
{"r":6,"c":130,"v":1},{"r":6,"c":131,"v":1},{"r":6,"c":132,"v":1},{"r":6,"c":133,"v":1},{"r":6,"c":134,"v":1},{"r":6,"c":135,"v":1},{"r":6,"c":136,"v":1},{"r":6,"c":137,"v":1},{"r":6,"c":138,"v":1},{"r":6,"c":139,"v":1},
{"r":6,"c":140,"v":1},{"r":6,"c":141,"v":1},{"r":6,"c":142,"v":1},{"r":6,"c":143,"v":1},{"r":6,"c":144,"v":1},{"r":6,"c":145,"v":1},{"r":6,"c":146,"v":1},{"r":6,"c":147,"v":1},{"r":6,"c":148,"v":1},{"r":6,"c":149,"v":1},
{"r":6,"c":150,"v":1},{"r":6,"c":151,"v":1},{"r":6,"c":152,"v":1},{"r":6,"c":153,"v":1},{"r":6,"c":154,"v":1},{"r":6,"c":155,"v":1},{"r":6,"c":156,"v":1},{"r":6,"c":157,"v":1},{"r":6,"c":158,"v":1},{"r":6,"c":159,"v":1},

{"r":7,"c":0,"v":1},{"r":7,"c":1,"v":1},{"r":7,"c":2,"v":1},{"r":7,"c":3,"v":1},{"r":7,"c":4,"v":1},{"r":7,"c":5,"v":1},{"r":7,"c":6,"v":1},{"r":7,"c":7,"v":1},{"r":7,"c":8,"v":1},{"r":7,"c":9,"v":1},
{"r":7,"c":10,"v":1},{"r":7,"c":11,"v":1},{"r":7,"c":12,"v":1},{"r":7,"c":13,"v":1},{"r":7,"c":14,"v":1},{"r":7,"c":15,"v":1},{"r":7,"c":16,"v":1},{"r":7,"c":17,"v":1},{"r":7,"c":18,"v":1},{"r":7,"c":19,"v":1},
{"r":7,"c":20,"v":1},{"r":7,"c":21,"v":1},{"r":7,"c":22,"v":1},{"r":7,"c":23,"v":1},{"r":7,"c":24,"v":1},{"r":7,"c":25,"v":1},{"r":7,"c":26,"v":1},{"r":7,"c":27,"v":0},{"r":7,"c":28,"v":0},{"r":7,"c":29,"v":1},
{"r":7,"c":30,"v":0},{"r":7,"c":31,"v":0},{"r":7,"c":32,"v":0},{"r":7,"c":33,"v":0},{"r":7,"c":34,"v":1},{"r":7,"c":35,"v":1},{"r":7,"c":36,"v":1},{"r":7,"c":37,"v":0},{"r":7,"c":38,"v":0},{"r":7,"c":39,"v":0},
{"r":7,"c":40,"v":0},{"r":7,"c":41,"v":0},{"r":7,"c":42,"v":0},{"r":7,"c":43,"v":0.19},{"r":7,"c":44,"v":1},{"r":7,"c":45,"v":1},{"r":7,"c":46,"v":1},{"r":7,"c":47,"v":0.63},{"r":7,"c":48,"v":0},{"r":7,"c":49,"v":0},
{"r":7,"c":50,"v":0},{"r":7,"c":51,"v":0},{"r":7,"c":52,"v":0},{"r":7,"c":53,"v":0},{"r":7,"c":54,"v":0},{"r":7,"c":55,"v":0.75},{"r":7,"c":56,"v":1},{"r":7,"c":57,"v":1},{"r":7,"c":58,"v":1},{"r":7,"c":59,"v":1},
{"r":7,"c":60,"v":1},{"r":7,"c":61,"v":1},{"r":7,"c":62,"v":1},{"r":7,"c":63,"v":1},{"r":7,"c":64,"v":1},{"r":7,"c":65,"v":1},{"r":7,"c":66,"v":0.66},{"r":7,"c":67,"v":0},{"r":7,"c":68,"v":0},{"r":7,"c":69,"v":0},
{"r":7,"c":70,"v":0},{"r":7,"c":71,"v":0},{"r":7,"c":72,"v":0},{"r":7,"c":73,"v":0},{"r":7,"c":74,"v":0.73},{"r":7,"c":75,"v":1},{"r":7,"c":76,"v":1},{"r":7,"c":77,"v":1},{"r":7,"c":78,"v":0.1},{"r":7,"c":79,"v":0},
{"r":7,"c":80,"v":0},{"r":7,"c":81,"v":0},{"r":7,"c":82,"v":0},{"r":7,"c":83,"v":0},{"r":7,"c":84,"v":0},{"r":7,"c":85,"v":0},{"r":7,"c":86,"v":0},{"r":7,"c":87,"v":0},{"r":7,"c":88,"v":0},{"r":7,"c":89,"v":0},
{"r":7,"c":90,"v":0},{"r":7,"c":91,"v":0},{"r":7,"c":92,"v":0},{"r":7,"c":93,"v":0},{"r":7,"c":94,"v":0},{"r":7,"c":95,"v":0},{"r":7,"c":96,"v":0},{"r":7,"c":97,"v":0},{"r":7,"c":98,"v":0},{"r":7,"c":99,"v":0},
{"r":7,"c":100,"v":0},{"r":7,"c":101,"v":0},{"r":7,"c":102,"v":0},{"r":7,"c":103,"v":0},{"r":7,"c":104,"v":0},{"r":7,"c":105,"v":0},{"r":7,"c":106,"v":0},{"r":7,"c":107,"v":0},{"r":7,"c":108,"v":0},{"r":7,"c":109,"v":0},
{"r":7,"c":110,"v":0},{"r":7,"c":111,"v":0},{"r":7,"c":112,"v":0},{"r":7,"c":113,"v":0},{"r":7,"c":114,"v":0},{"r":7,"c":115,"v":0},{"r":7,"c":116,"v":0},{"r":7,"c":117,"v":0},{"r":7,"c":118,"v":0},{"r":7,"c":119,"v":0},
{"r":7,"c":120,"v":0},{"r":7,"c":121,"v":0},{"r":7,"c":122,"v":0},{"r":7,"c":123,"v":0},{"r":7,"c":124,"v":0},{"r":7,"c":125,"v":0},{"r":7,"c":126,"v":1},{"r":7,"c":127,"v":0},{"r":7,"c":128,"v":0},{"r":7,"c":129,"v":0},
{"r":7,"c":130,"v":0},{"r":7,"c":131,"v":0},{"r":7,"c":132,"v":0},{"r":7,"c":133,"v":0},{"r":7,"c":134,"v":1},{"r":7,"c":135,"v":0},{"r":7,"c":136,"v":0},{"r":7,"c":137,"v":0},{"r":7,"c":138,"v":1},{"r":7,"c":139,"v":0},
{"r":7,"c":140,"v":1},{"r":7,"c":141,"v":0},{"r":7,"c":142,"v":1},{"r":7,"c":143,"v":0},{"r":7,"c":144,"v":1},{"r":7,"c":145,"v":0},{"r":7,"c":146,"v":0},{"r":7,"c":147,"v":0},{"r":7,"c":148,"v":0},{"r":7,"c":149,"v":1},
{"r":7,"c":150,"v":1},{"r":7,"c":151,"v":0},{"r":7,"c":152,"v":1},{"r":7,"c":153,"v":0},{"r":7,"c":154,"v":1},{"r":7,"c":155,"v":1},{"r":7,"c":156,"v":0},{"r":7,"c":157,"v":0},{"r":7,"c":158,"v":1},{"r":7,"c":159,"v":1}
]},
"layer": [
  {
    "mark": {"type": "rect", "strokeWidth": 0.8},
    "encoding": {
      "x": {"field": "c", "type": "ordinal", "scale": {"paddingInner": 0, "paddingOuter": 0}, "axis": {"orient": "bottom", "values": [0, 20, 40, 60, 80, 100, 120, 140], "labelPadding": 34, "zindex": 2}},
      "y": {"field": "r", "type": "ordinal", "scale": {"paddingInner": 0, "paddingOuter": 0}, "axis": {"orient": "left", "values": [0, 1, 2, 3, 4, 5, 6, 7], "labelPadding": 31, "zindex": 2}},
      "color": {"field": "v", "type": "quantitative", "scale": {"domain": [0, 1], "range": ["#008066", "#ffff66"], "interpolate": "rgb"}, "legend": null},
      "stroke": {"field": "v", "type": "quantitative", "scale": {"domain": [0, 1], "range": ["#008066", "#ffff66"], "interpolate": "rgb"}, "legend": null}
    }
  },
  {
    "mark": {"type": "rect", "opacity": 0},
    "encoding": {
      "x": {"field": "c", "type": "ordinal", "axis": {"orient": "top", "values": [0, 20, 40, 60, 80, 100, 120, 140], "labels": false, "zindex": 2}},
      "y": {"field": "r", "type": "ordinal", "axis": {"orient": "right", "values": [0, 1, 2, 3, 4, 5, 6, 7], "labels": false, "zindex": 2}}
    }
  }
],
"resolve": {"axis": {"x": "independent", "y": "independent"}}
}
